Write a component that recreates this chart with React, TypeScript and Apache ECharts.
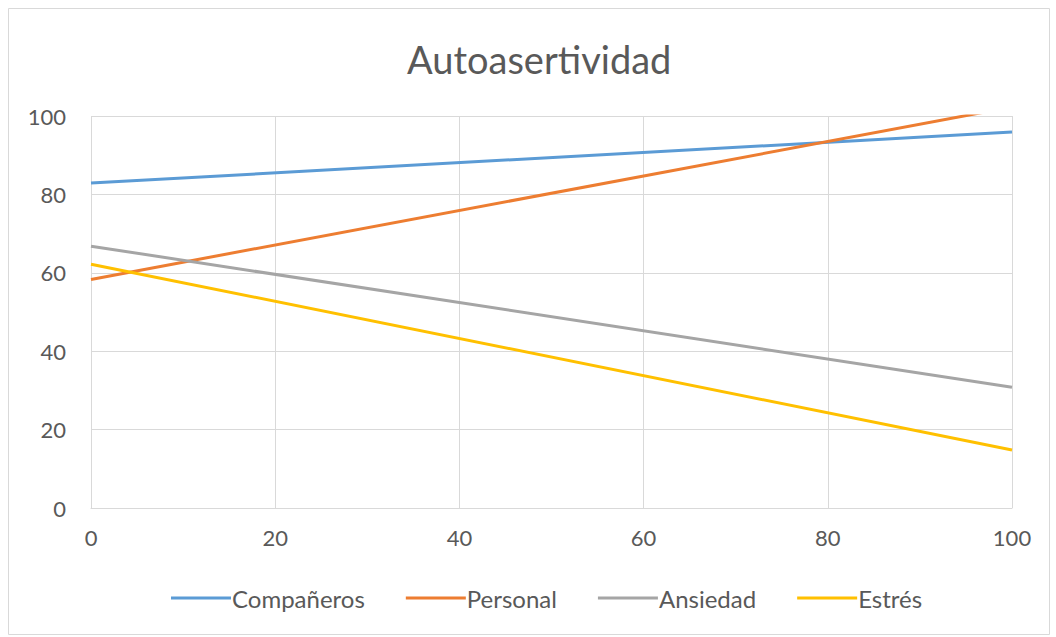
import React, { useEffect, useRef } from "react";
import * as echarts from "echarts";

const seriesNames = ["Compañeros", "Personal", "Ansiedad", "Estrés"];
const xValues = [0, 100];
const companeros = [82.9, 95.9];
const personal = [58.3, 102.3];
const ansiedad = [66.8, 30.8];
const estres = [62.2, 14.8];
const colors = ["#5B9BD5", "#ED7D31", "#A5A5A5", "#FFC000"];

export default function App() {
  const ref = useRef<HTMLDivElement>(null);
  useEffect(() => {
    document.body.style.margin = "0";
    const chart = echarts.init(ref.current!, undefined, { renderer: "svg" });
    const all = [companeros, personal, ansiedad, estres];
    const font = "Lato";
    chart.setOption({
      animation: false,
      backgroundColor: "#ffffff",
      title: {
        text: "Autoasertividad",
        left: 402,
        top: 35,
        textStyle: { fontFamily: font, fontSize: 38, fontWeight: "normal", color: "#595959" },
      },
      graphic: [
        {
          type: "rect",
          shape: { x: 8.5, y: 8.5, width: 1041, height: 626 },
          style: { fill: "none", stroke: "#d9d9d9", lineWidth: 1 },
          silent: true,
        },
      ],
      legend: {
        bottom: 22,
        left: 166,
        icon: "rect",
        itemWidth: 60,
        itemHeight: 3,
        itemGap: 41,
        textStyle: { fontFamily: font, fontSize: 24, color: "#595959", padding: [0, 0, 0, -4] },
        data: seriesNames,
      },
      grid: { left: 91, right: 44, top: 116, bottom: 129, containLabel: false },
      xAxis: {
        type: "value",
        min: 0,
        max: 100,
        interval: 20,
        axisLine: { show: true, lineStyle: { color: "#d9d9d9" } },
        axisTick: { show: false },
        axisLabel: { fontFamily: font, fontSize: 22, color: "#595959", margin: 18 },
        splitLine: { show: true, lineStyle: { color: "#d9d9d9", width: 1 } },
      },
      yAxis: {
        type: "value",
        min: 0,
        max: 100,
        interval: 20,
        axisLine: { show: false },
        axisTick: { show: false },
        axisLabel: { fontFamily: font, fontSize: 22, color: "#595959", margin: 25 },
        splitLine: { show: true, lineStyle: { color: "#d9d9d9", width: 1 } },
      },
      series: seriesNames.map((name, i) => ({
        name,
        type: "line",
        symbol: "none",
        clip: true,
        color: colors[i],
        lineStyle: { width: 3, color: colors[i] },
        data: xValues.map((x, j) => [x, all[i][j]]),
      })),
    });
    return () => chart.dispose();
  }, []);
  return <div ref={ref} style={{ width: 1056, height: 637 }} />;
}
